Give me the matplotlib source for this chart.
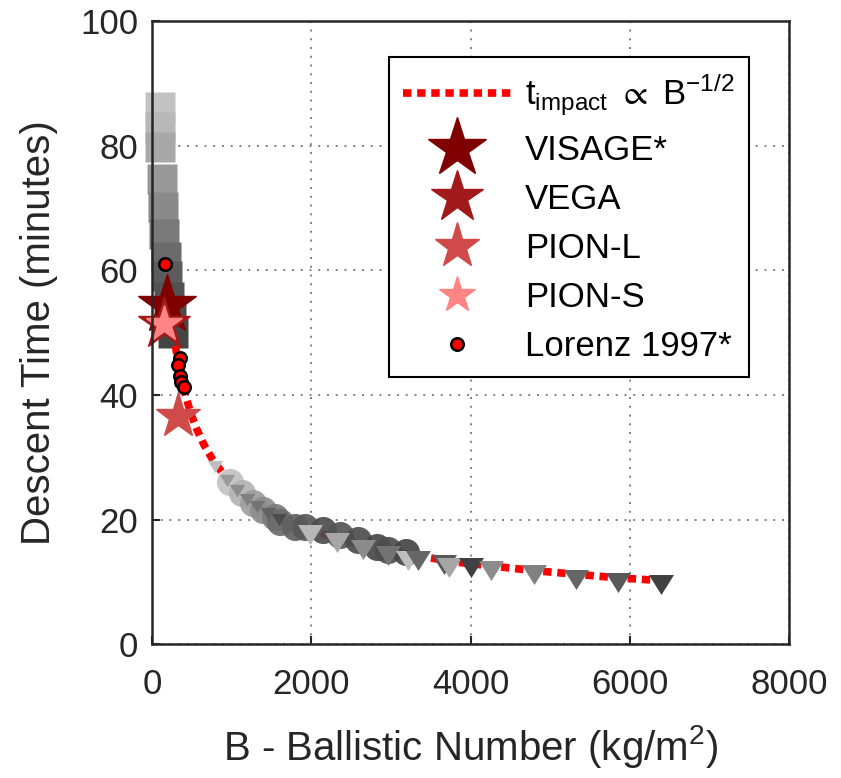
import matplotlib
matplotlib.use("Agg")
import matplotlib.pyplot as plt

plt.rcParams['font.family'] = ['Liberation Sans', 'DejaVu Sans']
plt.rcParams['mathtext.fontset'] = 'custom'
plt.rcParams['mathtext.rm'] = 'Liberation Sans'
plt.rcParams['mathtext.it'] = 'Liberation Sans:italic'
plt.rcParams['mathtext.fallback'] = 'stixsans'

TXT = '#262626'

# ---- data ----
# grey squares (low ballistic number, long descent)
sq_B = [92, 97, 104, 120, 136, 154, 173, 191, 215, 237, 267]
sq_t = [86.2, 83.0, 79.8, 74.6, 70.1, 65.8, 62.1, 59.1, 55.7, 53.0, 49.9]
sq_gray = [0.76, 0.72, 0.66, 0.60, 0.54, 0.48, 0.42, 0.36, 0.32, 0.29, 0.27]

# grey circles
ci_B = [981, 1132, 1270, 1396, 1547, 1610, 1799, 1925, 2151, 2365, 2591, 2830, 2969, 3183]
ci_t = [26.0, 24.2, 22.6, 21.5, 20.4, 19.6, 18.8, 18.8, 18.3, 17.5, 16.7, 15.6, 15.1, 14.8]
ci_gray = [0.76, 0.70, 0.62, 0.55, 0.48, 0.42, 0.38, 0.35, 0.30, 0.33, 0.30, 0.28, 0.30, 0.27]

# small grey triangles
st_B = [793, 943, 1069, 1195, 1321, 1459, 1598]
st_t = [28.7, 26.5, 24.9, 23.4, 22.3, 21.2, 20.2]
st_gray = [0.75, 0.60, 0.55, 0.50, 0.45, 0.38, 0.30]

# large grey triangles
lt_B = [1988, 2327, 2654, 2969, 3208, 3334, 3661, 3724, 4000, 4252, 4793, 5321, 5850, 6391]
lt_t = [18.0, 16.7, 15.6, 14.6, 13.8, 13.8, 13.2, 12.7, 12.7, 12.2, 11.6, 10.8, 10.3, 10.0]
lt_gray = [0.72, 0.65, 0.55, 0.45, 0.75, 0.40, 0.35, 0.65, 0.25, 0.55, 0.50, 0.40, 0.35, 0.25]

# t_impact ~ B^-1/2 trend
fit_B = [290, 340, 400, 480, 560, 650, 760, 900, 1100, 1400, 1800, 2300, 3000, 3800, 4800, 5800, 6400]
fit_t = [47.9, 44.3, 40.8, 37.2, 34.5, 32.0, 29.6, 27.2, 24.6, 21.8, 19.2, 17.0, 14.9, 13.2, 11.8, 10.7, 10.2]

# missions
star_names = ['VISAGE*', 'VEGA', 'PION-L', 'PION-S']
star_B = [190, 145, 330, 145]
star_t = [54.5, 51.3, 36.6, 51.3]
star_colors = ['#7f0000', '#a31a1a', '#d04a4a', '#ff8585']
star_sizes = [44, 39, 34, 27]

# Lorenz 1997
lor_B = [165, 345, 320, 345, 365, 395]
lor_t = [61.0, 46.0, 44.8, 43.1, 42.0, 41.2]

fig = plt.figure(figsize=(8.41, 7.78), dpi=100)
ax = fig.add_axes([0.181, 0.172, 0.757, 0.801])

tri = [(-1, 0.6), (1, 0.6), (0, -1.0)]

for b, t, g in zip(sq_B, sq_t, sq_gray):
    ax.plot(b, t, 's', ms=21, color=(g, g, g), mec='none', zorder=3, clip_on=False)

fit_line, = ax.plot(fit_B, fit_t, color='red', lw=5.5, linestyle=(0, (1.1, 0.75)),
                    dash_capstyle='butt', zorder=4,
                    label=r'$\mathrm{t_{impact}}\ \propto\ \mathrm{B^{-1/2}}$')

for b, t, g in zip(ci_B, ci_t, ci_gray):
    ax.plot(b, t, 'o', ms=19.5, color=(g, g, g), mec='none', alpha=0.92, zorder=5)
for b, t, g in zip(st_B, st_t, st_gray):
    ax.plot(b, t, marker=tri, ms=11, color=(g, g, g), mec='none', ls='none', zorder=6)
for b, t, g in zip(lt_B, lt_t, lt_gray):
    ax.plot(b, t, marker=tri, ms=18, color=(g, g, g), mec='none', ls='none', zorder=6)

handles = [fit_line]
for name, b, t, c, s in zip(star_names, star_B, star_t, star_colors, star_sizes):
    h, = ax.plot(b, t, '*', ms=s, color=c, mec=c, ls='none', zorder=7, label=name,
                 clip_on=False)
    handles.append(h)

lor, = ax.plot(lor_B, lor_t, 'o', ms=9, mfc='red', mec='black', mew=1.8,
               ls='none', zorder=8, label='Lorenz 1997*')
handles.append(lor)

ax.set_xlim(0, 8000)
ax.set_ylim(0, 100)
ax.set_xticks([0, 2000, 4000, 6000, 8000])
ax.set_yticks([0, 20, 40, 60, 80, 100])
ax.grid(True, linestyle=(0, (1, 3.5)), color='#808080', lw=1.4)
ax.set_axisbelow(True)

ax.tick_params(direction='in', length=6, width=1.5, labelsize=25,
               colors=TXT, top=False, right=False)
ax.tick_params(axis='x', pad=17)
ax.tick_params(axis='y', pad=10)
for sp in ax.spines.values():
    sp.set_linewidth(1.8)
    sp.set_color(TXT)
    sp.set_zorder(9)

ax.set_xlabel(r'B - Ballistic Number (kg/m$^\mathrm{2}$)', fontsize=29, color=TXT, labelpad=16)
ax.set_ylabel('Descent Time (minutes)', fontsize=29, color=TXT, labelpad=16)

leg = ax.legend(handles=handles, loc='upper right', bbox_to_anchor=(0.937, 0.942),
                borderaxespad=0, fontsize=25, frameon=True, fancybox=False,
                edgecolor='black', framealpha=1, handlelength=3.1,
                handletextpad=0.4, labelspacing=0.46, borderpad=0.42)
leg.get_frame().set_linewidth(1.5)
leg.set_zorder(10)

fig.savefig('out.png', dpi=100)
